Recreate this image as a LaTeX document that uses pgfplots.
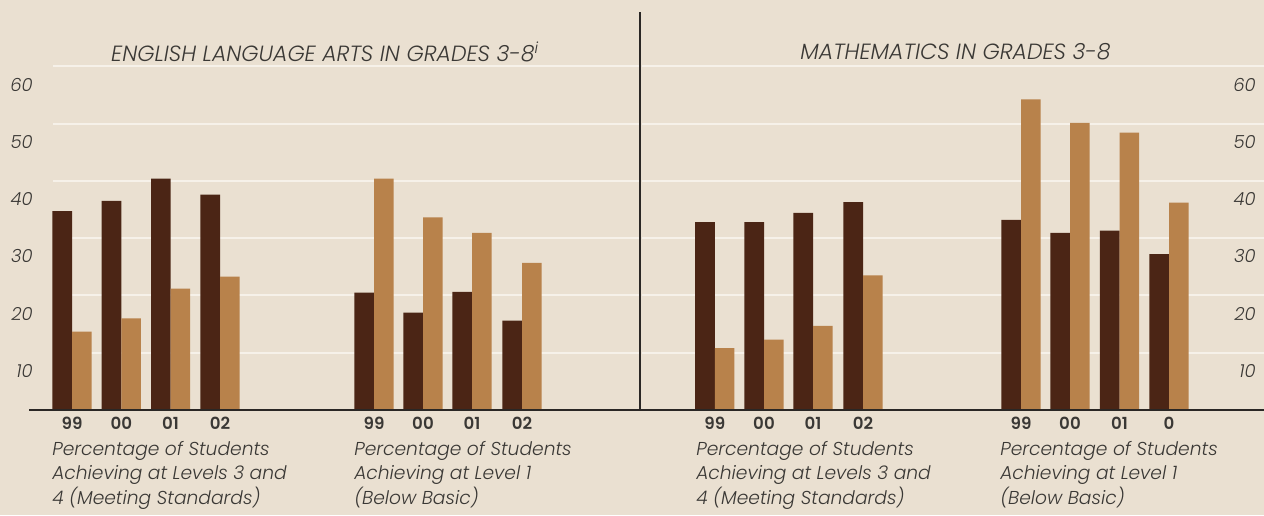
\documentclass[border=0pt]{standalone}
\usepackage{fontspec}
\setmainfont{Poppins}[UprightFont=* Light, ItalicFont=* Light Italic, BoldFont=* SemiBold]
\usepackage{pgfplots}
\usepackage{pgfplotstable}
\pgfplotsset{compat=1.18}
\definecolor{bgc}{HTML}{EAE0D1}
\definecolor{darkbar}{HTML}{4B2515}
\definecolor{lightbar}{HTML}{B8824B}
\definecolor{gridc}{HTML}{F6F1E9}
\definecolor{txt}{HTML}{3A3835}
\definecolor{linec}{HTML}{2A2725}

% x = horizontal position (px), dark = first series, light = second series
\pgfplotstableread{
x     dark  light
72    34.7  13.7
121.3 36.5  16.0
170.6 40.4  21.2
220   37.6  23.3
374   20.5  40.4
423   17.0  33.6
472   20.6  30.9
522   15.6  25.7
}\elatable
\pgfplotstableread{
x      dark  light
714.8  32.8  10.8
764    32.8  12.3
813    34.4  14.7
863    36.3  23.5
1021   33.2  54.2
1070   30.9  50.1
1119.5 31.3  48.4
1169   27.2  36.2
}\mathtable

\tikzset{captext/.style={anchor=north west, align=left, inner sep=0pt, text=txt,
    font=\fontsize{14}{18.4}\selectfont\itshape}}

\begin{document}
\begin{tikzpicture}
\fill[bgc] (0pt,0pt) rectangle (948pt,386.25pt);
\path[use as bounding box] (0pt,0pt) rectangle (948pt,386.25pt);
\pgfplotsset{
  panel/.style={
    scale only axis, height=300.8pt, ymin=0, ymax=70,
    axis line style={draw=none}, major tick length=0pt,
    clip=false,
    xtick=data,
    xticklabels={99,00,01,02,99,00,01,02},
    xticklabel style={font=\fontsize{12.5}{14}\selectfont\bfseries, text=txt, inner sep=0pt, anchor=north, yshift=-5pt},
    ytick={6.8,16.8,26.8,36.8,46.8,56.8},
    yticklabels={10,20,30,40,50,60},
    /pgf/number format/assume math mode=true,
    every axis plot/.append style={ybar, bar width=19.6, draw=none},
  },
}
% ---------- left panel ----------
\begin{axis}[panel, at={(0pt,78.75pt)}, anchor=south west, width=480pt,
  xmin=0, xmax=640,
  yticklabel style={font=\fontsize{13.5}{15}\selectfont\itshape, text=txt, inner sep=0pt, anchor=east, xshift=24.75pt},
]
\pgfplotsinvokeforeach{10,20,30,40,50,60}{
  \draw[gridc, line width=1.5pt] (axis cs:53,#1) -- (axis cs:640,#1);
}
\addplot[fill=darkbar, bar shift=-9.8] table[x=x, y=dark] {\elatable};
\addplot[fill=lightbar, bar shift=9.8] table[x=x, y=light] {\elatable};
\draw[linec, line width=1.5pt] (axis cs:29,0) -- (axis cs:640,0);
\draw[linec, line width=1.5pt] (axis cs:640,0) -- (axis cs:640,69.5);
\node[font=\fontsize{16.5}{18}\selectfont\itshape, text=txt, anchor=center] at (axis cs:325,62.5) {ENGLISH LANGUAGE ARTS IN GRADES 3-8\textsuperscript{i}};
\node[captext] at (axis cs:52,-5.4) {Percentage of Students\\Achieving at Levels 3 and\\4 (Meeting Standards)};
\node[captext] at (axis cs:354,-5.4) {Percentage of Students\\Achieving at Level 1\\(Below Basic)};
\end{axis}
% ---------- right panel ----------
\begin{axis}[panel, at={(480pt,78.75pt)}, anchor=south west, width=468pt,
  xmin=640, xmax=1264,
  xticklabels={99,00,01,02,99,00,01,0},
  yticklabel pos=right,
  yticklabel style={font=\fontsize{13.5}{15}\selectfont\itshape, text=txt, inner sep=0pt, anchor=east, xshift=-6pt},
]
\pgfplotsinvokeforeach{10,20,30,40,50,60}{
  \draw[gridc, line width=1.5pt] (axis cs:642,#1) -- (axis cs:1264,#1);
}
\addplot[fill=darkbar, bar shift=-9.8] table[x=x, y=dark] {\mathtable};
\addplot[fill=lightbar, bar shift=9.8] table[x=x, y=light] {\mathtable};
\draw[linec, line width=1.5pt] (axis cs:640,0) -- (axis cs:1264,0);
\node[font=\fontsize{16.5}{18}\selectfont\itshape, text=txt, anchor=center] at (axis cs:955.5,62.5) {MATHEMATICS IN GRADES 3-8};
\node[captext] at (axis cs:696,-5.4) {Percentage of Students\\Achieving at Levels 3 and\\4 (Meeting Standards)};
\node[captext] at (axis cs:1000,-5.4) {Percentage of Students\\Achieving at Level 1\\(Below Basic)};
\end{axis}
\end{tikzpicture}
\end{document}
